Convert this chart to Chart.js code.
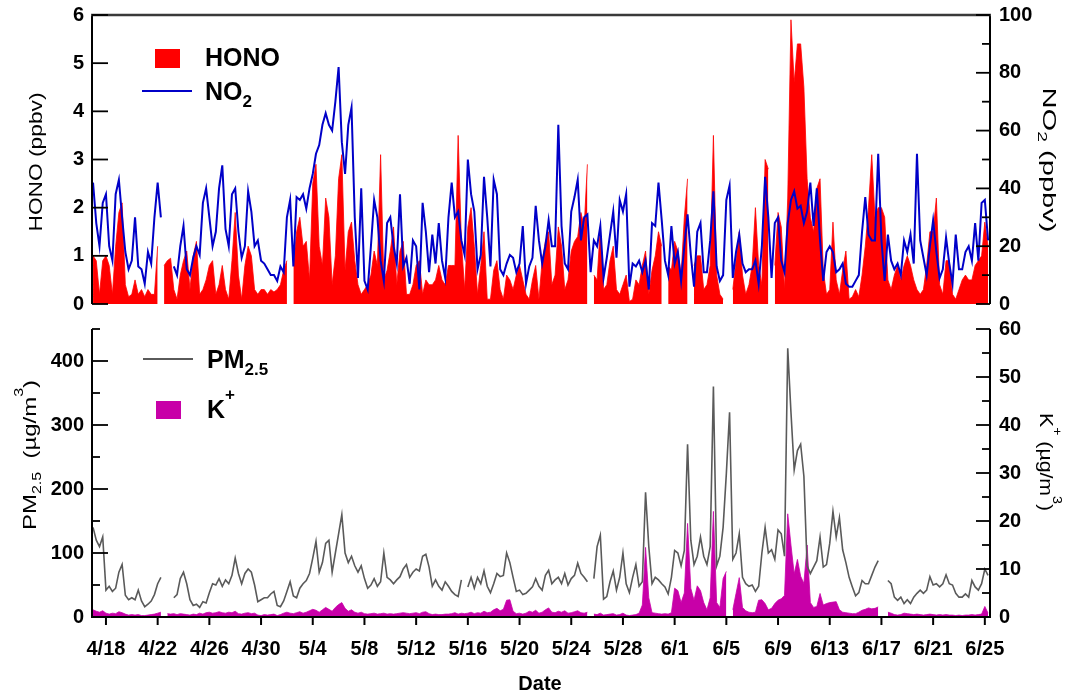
<!DOCTYPE html>
<html>
<head>
<meta charset="utf-8">
<script src="https://cdn.jsdelivr.net/npm/chart.js"></script>
<style>
  html, body { margin: 0; padding: 0; background: #fff; }
  #wrap { position: relative; width: 1075px; height: 699px; overflow: hidden; }
  canvas { position: absolute; left: 0; }
  #top { top: 0; }
  #bot { top: 310px; }
</style>
</head>
<body>
<div id="wrap">
  <canvas id="top" width="1075" height="320"></canvas>
  <canvas id="bot" width="1075" height="389"></canvas>
</div>
<script>
// x values are days counted from 4/18, one sample every 6 hours starting 4/17 00:00
const t0 = -1;
const step = 0.25;
const dateLabels = ['4/18','4/22','4/26','4/30','5/4','5/8','5/12','5/16','5/20',
                    '5/24','5/28','6/1','6/5','6/9','6/13','6/17','6/21','6/25'];

// HONO (ppbv), 4 values per day
const hono = [
  1.0,0.9,0.2,0.9,  1.0,0.8,0.2,1.2,  1.9,2.1,0.4,0.15, 0.2,0.5,0.2,0.3,    // 4/17-4/20
  0.15,0.3,0.2,0.2, 1.2,null,0.8,0.9, 0.95,0.3,0.1,0.6, 0.9,1.1,0.3,1.0,    // 4/21-4/24
  1.3,0.2,0.3,0.5,  0.8,0.9,0.2,0.4,  0.8,0.3,0.1,0.9,  1.9,0.6,0.1,0.8,    // 4/25-4/28
  1.2,1.0,0.3,0.2,  0.3,0.3,0.2,0.3,  0.25,0.3,0.4,0.7, 0.9,null,0.8,1.5,   // 4/29-5/2
  1.8,1.2,1.3,0.5,  2.5,2.9,1.2,0.8,  2.2,1.8,0.4,1.0,  2.6,3.1,0.7,1.5,    // 5/3-5/6
  1.7,0.9,0.4,0.2,  0.3,0.4,0.6,1.1,  0.8,3.1,0.5,0.7,  1.1,1.6,0.4,1.1,    // 5/7-5/10
  1.3,0.2,0.2,0.4,  0.8,0.9,0.2,0.5,  0.4,0.4,0.5,0.8,  0.5,0.4,0.8,0.8,    // 5/11-5/14
  0.8,3.5,1.3,0.3,  1.6,2.0,1.2,0.2,  0.8,1.5,0.1,0.1,  0.7,0.9,0.3,0.1,    // 5/15-5/18
  0.6,0.5,0.3,0.6,  0.8,0.5,0.2,0.1,  0.5,0.8,0.1,0.9,  1.3,1.5,0.4,0.6,    // 5/19-5/22
  1.6,1.2,0.3,0.5,  1.1,1.3,1.4,1.9,  1.6,2.9,null,0.6, 0.5,1.6,0.3,0.4,    // 5/23-5/26
  0.9,1.2,0.3,0.2,  0.4,0.6,0.05,0.1, 0.5,0.4,0.8,1.1,  0.2,0.7,1.0,1.5,    // 5/27-5/30
  1.2,null,0.8,0.7, 1.3,1.1,0.6,1.8,  2.6,null,0.8,1.0, 1.0,0.3,0.4,0.8,    // 5/31-6/3
  3.5,0.6,0.2,0.1,  null,null,0.3,0.9, 1.5,0.6,0.2,0.4, 0.8,2.0,0.8,0.4,    // 6/4-6/7
  3.0,2.8,null,0.8, 1.9,1.6,0.3,2.2,  5.9,4.6,5.4,5.4,  4.5,2.6,1.8,1.5,    // 6/8-6/11
  2.4,2.6,0.7,0.2,  0.3,1.7,0.5,0.2,  0.7,1.1,0.1,0.15, 0.3,0.15,0.6,1.2,   // 6/12-6/15
  2.0,3.1,1.8,2.0,  2.0,1.8,0.5,0.3,  0.6,0.8,0.5,0.8,  1.0,0.8,0.5,0.3,    // 6/16-6/19
  0.2,0.3,0.8,1.5,  1.5,2.2,0.4,0.2,  0.9,0.9,0.2,0.1,  0.3,0.5,0.6,0.5,    // 6/20-6/23
  0.5,0.8,0.9,1.0,  1.7,1.2                                                 // 6/24-6/25
];

// NO2 (ppbv)
const no2 = [
  42,28,20,35,  38,20,15,38,  43,30,18,12,  15,30,13,12,
  7,18,14,30,   42,30,null,null, null,13,10,20, 27,12,10,16,
  20,17,35,40,  30,20,25,40,  48,26,20,38,  40,25,16,20,
  39,32,20,22,  15,14,12,10,  10,8,13,11,   30,36,13,37,
  36,38,33,40,  45,52,55,62,  66,62,60,70,  82,56,45,62,
  68,30,9,40,   8,5,20,36,    30,15,8,28,   30,20,14,38,
  13,16,7,22,   20,5,35,25,   11,24,14,28,  15,9,30,42,
  30,32,22,17,  50,38,32,12,  17,44,30,13,  43,38,12,10,
  14,17,16,11,  14,27,7,13,   16,34,22,14,  20,29,20,20,
  62,27,14,12,  32,37,43,22,  30,31,11,22,  20,27,9,16,
  24,32,16,36,  32,38,6,14,   13,15,11,15,  5,28,27,42,
  29,15,10,27,  14,18,8,20,   31,17,6,25,   28,11,11,22,
  39,13,8,10,   36,41,9,18,   24,14,11,12,  12,15,7,20,
  44,30,9,28,   30,15,11,28,  36,39,33,34,  28,32,42,27,
  40,22,8,18,   20,18,11,12,  14,7,6,6,     8,10,25,37,
  24,22,22,52,  22,8,24,15,   12,14,10,22,  18,24,14,52,
  22,16,10,20,  29,18,9,12,   23,14,7,24,   12,12,18,20,
  15,28,15,35,  36,22
];

// PM2.5 (ug/m3)
const pm25 = [
  140,120,110,125, 42,48,40,45,   70,82,34,27,   30,27,42,25,
  16,20,25,35,     52,62,null,null, null,30,35,60, 70,52,27,18,
  20,15,24,22,     38,52,50,60,   48,58,52,65,   92,68,52,68,
  75,70,50,24,     27,30,30,36,   40,18,16,25,   40,55,33,30,
  45,52,57,68,     92,118,70,85,  115,120,70,100, 130,160,100,85,
  95,80,70,80,     60,45,50,60,   48,55,100,62,  58,52,58,63,
  75,82,62,70,     75,72,95,98,   78,48,58,48,   42,55,48,40,
  35,32,58,null,   47,62,45,62,   52,72,48,38,   52,68,63,65,
  100,85,62,40,    42,35,37,42,   47,60,48,42,   65,73,52,58,
  62,52,68,50,     60,65,84,68,   62,55,null,60, 110,128,28,32,
  55,72,42,62,     100,52,38,62,  82,48,55,195,  110,52,62,58,
  52,47,36,62,     104,100,80,104, 270,120,82,95, 125,95,82,110,
  360,80,95,140,   224,320,90,100, 130,62,52,48, 50,40,48,100,
  140,100,105,90,  136,130,95,420, 320,230,260,270, 220,80,68,78,
  88,125,78,82,    115,165,125,155, 105,85,62,47, 33,38,57,52,
  52,65,78,88,     null,null,57,52, 31,26,31,21,  27,21,31,37,
  42,37,42,63,     50,52,47,52,   66,52,50,37,   31,31,36,31,
  57,47,42,52,     75,65
];

// K+ (ug/m3)
const kPlus = [
  1.5,1.2,1.0,1.3, 0.8,0.6,0.8,0.7, 1.1,0.9,0.6,0.4, 0.5,0.4,0.5,0.3,
  0.3,0.4,0.5,0.6, 0.8,1.0,null,0.7, 0.6,0.7,0.5,0.7, 0.6,0.5,0.4,0.6,
  0.5,0.8,0.6,0.9, 1.0,0.8,0.9,1.1, 0.9,0.8,1.0,0.9, 1.2,0.7,0.6,0.8,
  0.9,0.7,0.8,0.4, 0.3,0.5,0.4,0.5, 0.6,0.3,0.5,0.8, 1.0,0.8,0.7,0.9,
  1.1,0.8,1.0,1.3, 1.6,1.4,1.0,1.5, 2.0,1.6,1.2,2.0, 2.6,3.0,1.8,1.2,
  1.5,1.0,0.8,1.0, 0.7,0.6,0.7,0.8, 0.6,0.7,0.8,0.6, 0.7,0.6,0.7,0.8,
  0.9,0.8,0.7,0.8, 0.9,0.7,1.0,1.1, 0.7,0.5,0.6,0.5, 0.5,0.6,0.6,0.7,
  0.9,0.6,0.8,0.7, 0.8,1.0,0.7,0.9, 0.8,1.2,0.9,1.0, 1.5,1.8,1.3,1.6,
  3.5,3.6,1.2,0.7, 0.8,0.6,0.8,1.2, 1.0,1.4,0.8,1.0, 1.5,1.9,1.0,0.9,
  1.2,1.0,1.3,0.8, 0.9,1.1,1.3,0.9, 0.8,1.0,null,0.6, 0.5,0.8,0.4,0.5,
  0.6,0.7,0.4,0.5, 0.8,0.4,0.3,0.4, 0.5,0.8,2.5,14.5, 4.0,0.9,0.8,0.7,
  0.6,0.7,0.6,0.9, 6.0,5.5,3.0,5.0, 19.5,6.0,3.5,6.5, 5.5,3.0,1.5,4.0,
  22,3.0,2.0,8.0,  9.5,null,1.5,4.9, 8.2,2.0,1.3,1.0, 0.9,1.0,3.5,3.6,
  2.8,1.5,1.8,2.8, 3.5,3.8,4.5,21.5, 15,9,12,8.5,     7,15,3.0,2.0,
  2.2,4.9,2.5,2.8, 3.0,3.1,3.2,1.5, 1.0,0.9,0.8,0.7, 0.7,1.0,1.4,1.6,
  1.9,1.7,1.8,2.1, null,null,1.0,0.8, 0.5,0.4,0.5,0.8, 0.7,0.6,0.5,0.6,
  0.5,0.4,0.5,0.6, 0.5,0.4,0.5,0.4, 0.5,0.4,0.4,0.3, 0.4,0.3,0.4,0.4,
  0.5,0.4,0.5,0.6, 2.2,0.8
];

const FONT = "'Liberation Sans', Arial, Helvetica, sans-serif";
const RED = '#ff0000', BLUE = '#0000c8', GRAY = '#5a5a5a', MAGENTA = '#c800a8';

function series(vals) {
  return vals.map((v, i) => ({ x: t0 + i * step, y: v }));
}

// draws a run of text pieces: [text, 0 normal | 1 subscript | 2 superscript]
function richText(ctx, parts, x, y, rot, size, weight, align, len) {
  ctx.save();
  ctx.translate(x, y);
  ctx.rotate(rot);
  const fontOf = m => weight + ' ' + (m ? Math.round(size * 0.68) : size) + 'px ' + FONT;
  let w = 0;
  const ws = parts.map(p => { ctx.font = fontOf(p[1]); const m = ctx.measureText(p[0]).width; w += m; return m; });
  const sx = len ? len / w : 1;
  ctx.scale(sx, 1);
  let cx = align === 'center' ? -w / 2 : 0;
  ctx.fillStyle = '#000';
  ctx.textBaseline = 'alphabetic';
  ctx.textAlign = 'left';
  parts.forEach((p, i) => {
    ctx.font = fontOf(p[1]);
    const dy = p[1] === 1 ? size * 0.28 : p[1] === 2 ? -size * 0.72 : 0;
    ctx.fillText(p[0], cx, dy);
    cx += ws[i];
  });
  ctx.restore();
}

function line(ctx, x1, y1, x2, y2) {
  ctx.beginPath(); ctx.moveTo(x1, y1); ctx.lineTo(x2, y2); ctx.stroke();
}

// axis lines and inward tick marks
function framePlugin(o) {
  return {
    id: 'frame',
    afterDraw(chart) {
      const ctx = chart.ctx, a = chart.chartArea;
      const L = chart.scales.yL, R = chart.scales.yR, X = chart.scales.x;
      ctx.save();
      ctx.strokeStyle = '#000';
      ctx.lineWidth = 2;
      line(ctx, a.left, a.top, a.left, a.bottom);
      line(ctx, a.right, a.top, a.right, a.bottom);
      if (o.topBorder) { ctx.strokeStyle = '#3a3a3a'; ctx.lineWidth = 2.5; line(ctx, a.left - 1, a.top, a.right + 1, a.top); ctx.strokeStyle = '#000'; ctx.lineWidth = 2; }
      if (o.bottomAxis) {
        line(ctx, a.left - 1, a.bottom, a.right + 1, a.bottom);
        X.ticks.forEach(t => { const px = X.getPixelForValue(t.value); line(ctx, px, a.bottom, px, a.bottom + 8); });
      }
      ctx.lineWidth = 1.8;
      for (let v = L.min; v <= L.max + 1e-9; v += o.lMinor) {
        const major = Math.abs(v / o.lMajor - Math.round(v / o.lMajor)) < 1e-6;
        const py = L.getPixelForValue(v);
        line(ctx, a.left, py, a.left + (major ? 16 : 8), py);
      }
      for (let v = R.min; v <= R.max + 1e-9; v += o.rMinor) {
        const major = Math.abs(v / o.rMajor - Math.round(v / o.rMajor)) < 1e-6;
        const py = R.getPixelForValue(v);
        line(ctx, a.right, py, a.right - (major ? 14 : 8), py);
      }
      ctx.restore();
    }
  };
}

// legends and axis titles, positions in page pixels
function textPlugin(oy, draw) {
  return {
    id: 'texts',
    afterDraw(chart) {
      const ctx = chart.ctx;
      ctx.save();
      ctx.translate(0, -oy);
      draw(ctx);
      ctx.restore();
    }
  };
}

// fixed axis sizes so the plot areas sit where the reference has them
function fitW(w) {
  return s => { s.width = w; s.paddingTop = 0; s.paddingBottom = 0; };
}

const tickFont = { family: FONT, size: 20, weight: 'bold' };
const yBase = { grid: { display: false, drawTicks: false }, border: { display: false } };

// ---------- top panel: HONO & NO2 ----------
new Chart(document.getElementById('top'), {
  type: 'line',
  data: {
    datasets: [
      { label: 'NO2', data: series(no2), yAxisID: 'yR', borderColor: BLUE, borderWidth: 2,
        pointRadius: 0, fill: false, order: 0, tension: 0 },
      { label: 'HONO', data: series(hono), yAxisID: 'yL', borderColor: RED, borderWidth: 0.8,
        backgroundColor: RED, pointRadius: 0, fill: 'origin', order: 1, tension: 0 }
    ]
  },
  options: {
    responsive: false, animation: false, devicePixelRatio: 1,
    layout: { padding: { top: 15, bottom: 16, left: 0, right: 0 } },
    plugins: { legend: { display: false }, tooltip: { enabled: false } },
    scales: {
      x: { type: 'linear', min: -1.08, max: 68.4, display: false },
      yL: { ...yBase, position: 'left', min: 0, max: 6,
            ticks: { stepSize: 1, font: tickFont, color: '#000', padding: 8 },
            afterFit: fitW(92) },
      yR: { ...yBase, position: 'right', min: 0, max: 100,
            ticks: { stepSize: 20, font: tickFont, color: '#000', padding: 9 },
            afterFit: fitW(85) }
    }
  },
  plugins: [
    framePlugin({ topBorder: true, bottomAxis: false, lMajor: 1, lMinor: 1, rMajor: 20, rMinor: 10 }),
    textPlugin(0, ctx => {
      ctx.fillStyle = RED; ctx.fillRect(155, 49, 25, 19);
      richText(ctx, [['HONO', 0]], 205, 66, 0, 25, 'bold', 'left');
      ctx.strokeStyle = BLUE; ctx.lineWidth = 2; line(ctx, 142, 91, 192, 91);
      richText(ctx, [['NO', 0], ['2', 1]], 205, 100, 0, 25, 'bold', 'left');
      richText(ctx, [['HONO (ppbv)', 0]], 42, 162, -Math.PI / 2, 18, 'normal', 'center', 139);
      richText(ctx, [['NO', 0], ['2', 1], [' (ppbv)', 0]], 1043, 160, Math.PI / 2, 18, 'normal', 'center', 145);
    })
  ]
});

// ---------- bottom panel: PM2.5 & K+ ----------
new Chart(document.getElementById('bot'), {
  type: 'line',
  data: {
    datasets: [
      { label: 'PM2.5', data: series(pm25), yAxisID: 'yL', borderColor: GRAY, borderWidth: 1.6,
        pointRadius: 0, fill: false, order: 0, tension: 0 },
      { label: 'K+', data: series(kPlus), yAxisID: 'yR', borderColor: MAGENTA, borderWidth: 0.8,
        backgroundColor: MAGENTA, pointRadius: 0, fill: 'origin', order: 1, tension: 0 }
    ]
  },
  options: {
    responsive: false, animation: false, devicePixelRatio: 1,
    layout: { padding: { top: 19, bottom: 0, left: 0, right: 0 } },
    plugins: { legend: { display: false }, tooltip: { enabled: false } },
    scales: {
      x: { type: 'linear', min: -1.08, max: 68.4,
           grid: { display: false, drawTicks: false }, border: { display: false },
           ticks: { stepSize: 4, includeBounds: false, autoSkip: false, maxRotation: 0,
                    font: tickFont, color: '#000', padding: 20,
                    callback: v => dateLabels[Math.round(v / 4)] ?? '' },
           afterFit(s) { s.height = 82; s.paddingLeft = 0; s.paddingRight = 0; } },
      yL: { ...yBase, position: 'left', min: 0, max: 450,
            ticks: { stepSize: 100, includeBounds: false, font: tickFont, color: '#000', padding: 8 },
            afterFit: fitW(92) },
      yR: { ...yBase, position: 'right', min: 0, max: 60,
            ticks: { stepSize: 10, font: tickFont, color: '#000', padding: 9 },
            afterFit: fitW(85) }
    }
  },
  plugins: [
    framePlugin({ topBorder: false, bottomAxis: true, lMajor: 100, lMinor: 50, rMajor: 10, rMinor: 5 }),
    textPlugin(310, ctx => {
      ctx.strokeStyle = GRAY; ctx.lineWidth = 2; line(ctx, 143, 359, 193, 359);
      richText(ctx, [['PM', 0], ['2.5', 1]], 207, 368, 0, 25, 'bold', 'left');
      ctx.fillStyle = MAGENTA; ctx.fillRect(156, 401, 25, 18);
      richText(ctx, [['K', 0], ['+', 2]], 207, 418, 0, 25, 'bold', 'left');
      richText(ctx, [['PM', 0], ['2.5', 1], ['  (\u00b5g/m', 0], ['3', 2], [')', 0]], 36, 455, -Math.PI / 2, 18, 'normal', 'center', 150);
      richText(ctx, [['K', 0], ['+', 2], [' (\u00b5g/m', 0], ['3', 2], [')', 0]], 1040, 462, Math.PI / 2, 18, 'normal', 'center', 98);
      richText(ctx, [['Date', 0]], 540, 690, 0, 20, 'bold', 'center');
    })
  ]
});
</script>
</body>
</html>
